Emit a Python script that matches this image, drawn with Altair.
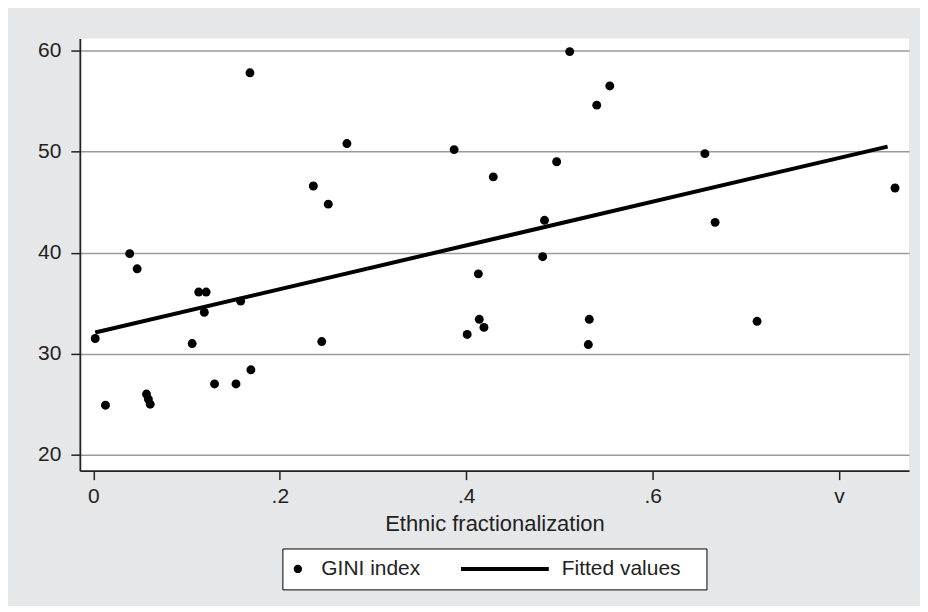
import json
import numpy as np
import pandas as pd
import altair as alt

# Scatter data (Ethnic fractionalization vs GINI index)
frac = [0.002, 0.013, 0.039, 0.047, 0.057, 0.059, 0.061, 0.106, 0.113, 0.121,
        0.119, 0.130, 0.153, 0.158, 0.168, 0.169, 0.236, 0.245, 0.252, 0.272,
        0.387, 0.401, 0.413, 0.414, 0.419, 0.429, 0.482, 0.484, 0.497, 0.511,
        0.531, 0.532, 0.540, 0.554, 0.656, 0.667, 0.712, 0.860]
gini = [31.5, 24.9, 39.9, 38.4, 26.0, 25.5, 25.0, 31.0, 36.1, 36.1,
        34.1, 27.0, 27.0, 35.2, 57.8, 28.4, 46.6, 31.2, 44.8, 50.8,
        50.2, 31.9, 37.9, 33.4, 32.6, 47.5, 39.6, 43.2, 49.0, 59.9,
        30.9, 33.4, 54.6, 56.5, 49.8, 43.0, 33.2, 46.4]

# Fitted values line (end points)
fit_x = [0.002, 0.852]
fit_y = [32.1, 50.5]

# Axis ticks
y_ticks = [20, 30, 40, 50, 60]
x_ticks = [0, 0.2, 0.4, 0.6, 0.8]
x_tick_labels = ["0", ".2", ".4", ".6", "v"]

series_names = ["GINI index", "Fitted values"]

FONT = "Liberation Sans"
TEXT = "#222222"

pts = pd.DataFrame({"x": frac, "y": gini})
fit = pd.DataFrame({"x": fit_x, "y": fit_y})
leg = pd.DataFrame({"series": series_names, "x": [np.nan, np.nan], "y": [np.nan, np.nan]})

xscale = alt.Scale(domain=[-0.0145, 0.875], nice=False, zero=False)
yscale = alt.Scale(domain=[18.42, 61.19], nice=False, zero=False)

label_expr = json.dumps(x_tick_labels) + "[round(datum.value*5)]"

xaxis = alt.Axis(values=x_ticks, labelExpr=label_expr, title="Ethnic fractionalization",
                 grid=False, domainColor="#222222", domainWidth=1.8, tickColor="#222222",
                 tickWidth=1.5, tickSize=9, labelPadding=6, labelFontSize=21,
                 labelFont=FONT, labelColor=TEXT, titleFont=FONT, titleFontSize=22,
                 titleFontWeight="normal", titleColor=TEXT, titlePadding=7)
yaxis = alt.Axis(values=y_ticks, title=None, grid=True, gridColor="#9a9a9a", gridWidth=1.5,
                 domainColor="#222222", domainWidth=1.8, tickColor="#222222", tickWidth=1.5,
                 tickSize=9, labelPadding=10, labelFontSize=21, labelFont=FONT,
                 labelColor=TEXT)

points = alt.Chart(pts).mark_circle(size=80, color="black", opacity=1).encode(
    x=alt.X("x:Q", scale=xscale, axis=xaxis),
    y=alt.Y("y:Q", scale=yscale, axis=yaxis),
)

line = alt.Chart(fit).mark_line(color="black", strokeWidth=4).encode(
    x=alt.X("x:Q", scale=xscale),
    y=alt.Y("y:Q", scale=yscale),
)

bar = "M-1,-0.045L1,-0.045L1,0.045L-1,0.045Z"

# trailing blank glyphs widen the legend frame on the right, as in the reference
legend_label_expr = "datum.label == 'Fitted values' ? datum.label + '\u00a0\u2800' : datum.label"

legend_props = dict(title=None, orient="none", legendX=203, legendY=511,
                    direction="horizontal", strokeColor="black", fillColor="white",
                    padding=5, labelFont=FONT, labelFontSize=21, labelColor=TEXT,
                    labelOffset=13, columnPadding=40, clipHeight=31,
                    symbolStrokeWidth=0, symbolFillColor="black",
                    labelExpr=legend_label_expr)

legend_layer = alt.Chart(leg).mark_point(filled=True, color="black", opacity=1).encode(
    x=alt.X("x:Q", scale=xscale),
    y=alt.Y("y:Q", scale=yscale),
    shape=alt.Shape("series:N", scale=alt.Scale(domain=series_names, range=["circle", bar]),
                    legend=alt.Legend(**legend_props)),
    size=alt.Size("series:N", scale=alt.Scale(domain=series_names, range=[70, 7744]),
                  legend=alt.Legend(**legend_props)),
)

chart = alt.layer(points, line, legend_layer).properties(
    width=831, height=433,
    autosize=alt.AutoSizeParams(type="none"),
    padding={"left": 72, "top": 30, "right": 11, "bottom": 135},
    background="#e6e7e9",
).configure_view(fill="white", stroke=None)

chart.save("out.html", embed_options={"renderer": "svg", "actions": False})
